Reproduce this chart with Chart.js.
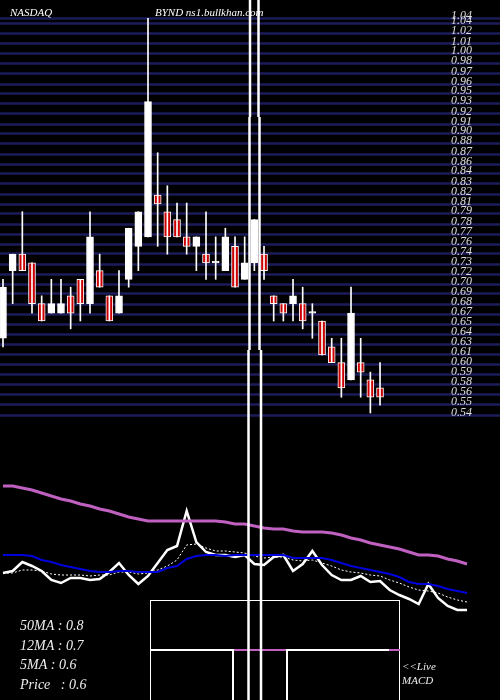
<!DOCTYPE html>
<html><head><meta charset="utf-8">
<script src="https://cdn.jsdelivr.net/npm/chart.js@4/dist/chart.umd.min.js"></script>
<style>html,body{margin:0;padding:0;background:#000;}canvas{display:block;}</style>
</head><body>
<canvas id="c" width="500" height="700"></canvas>
<script>
// Candles (open, high, low, close)
const opens  = [.635,.721,.742,.731,.679,.667,.667,.689,.710,.679,.721,.689,.667,.710,.752,.764,.817,.796,.786,.764,.752,.742,.731,.721,.752,.710,.731,.742,.689,.679,.679,.679,.667,.657,.624,.604,.582,.604,.582,.572];
const highs  = [.710,.742,.796,.731,.689,.710,.710,.700,.710,.796,.742,.689,.721,.775,.796,1.042,.871,.829,.807,.807,.764,.796,.764,.775,.764,.764,.786,.752,.689,.679,.710,.700,.679,.657,.635,.635,.700,.635,.592,.604];
const lows   = [.624,.679,.721,.667,.657,.667,.667,.647,.657,.667,.700,.657,.667,.700,.721,.764,.752,.742,.764,.742,.721,.710,.710,.721,.700,.710,.721,.710,.657,.657,.657,.647,.635,.614,.604,.560,.582,.560,.540,.550];
const closes = [.700,.742,.721,.679,.657,.679,.679,.667,.679,.764,.700,.657,.689,.775,.796,.936,.806,.764,.764,.752,.764,.731,.731,.764,.700,.731,.786,.721,.679,.667,.689,.657,.667,.614,.604,.572,.667,.592,.560,.560];
// Indicator panel series
const ma50  = [214,214,212,210,207,204,201,199,196,194,191,189,186,183,181,179,179,179,179,179,179,179,179,178,176,176,174,172,171,171,169,168,168,168,167,165,162,160,157,155,153,151,148,145,145,144,141,139,136];
const ma12  = [145,145,145,144,140,138,135,133,131,129,128,128,129,129,128,128,128,132,134,141,144,145,145,144,145,145,145,145,145,145,142,142,142,142,140,137,134,132,130,128,126,123,118,116,116,114,111,109,107];
const price = [127,129,138,134,129,120,117,122,122,120,121,128,137,125,116,124,137,150,154,189,158,148,145,145,143,145,136,135,143,145,129,136,149,135,125,120,120,124,118,119,110,105,101,96,116,102,94,90,90];
const ma5   = [127,127,130,130,129,126,125,125,125,124,125,125,128,128,126,127,130,134,140,155,156,152,149,149,148,147,144,142,143,143,140,139,140,137,134,130,128,127,125,124,120,117,113,110,109,107,103,100,98];
// Price axis tick labels
const tickValues = [1.042,1.036,1.023,1.010,0.998,0.985,0.972,0.959,0.947,0.934,0.921,0.908,0.896,0.883,0.870,0.857,0.845,0.832,0.819,0.806,0.794,0.781,0.768,0.755,0.743,0.730,0.717,0.704,0.692,0.679,0.666,0.653,0.641,0.628,0.615,0.602,0.590,0.577,0.564,0.551,0.538];
const legendLines = ["50MA : 0.8","12MA : 0.7","5MA : 0.6","Price   : 0.6"];

const isUp = opens.map((o,i)=>closes[i]>=o);
const wickData = highs.map((h,i)=>({x:i,y:[lows[i],h]}));
const bodyData = opens.map((o,i)=>{const a=Math.min(o,closes[i]),b=Math.max(o,closes[i]);return {x:i,y:[a,b-a<0.002?a+0.002:b]};});
const lineData = arr=>arr.map((v,i)=>({x:i,y:v}));

const SERIF = '"Liberation Serif","DejaVu Serif",serif';
const deco = {
  id:'deco',
  beforeDraw(ch){const c=ch.ctx;c.save();c.fillStyle='#000';c.fillRect(0,0,ch.width,ch.height);
    const y=ch.scales.y;c.strokeStyle='#1c1c5a';c.lineWidth=2.5;
    tickValues.forEach(v=>{const p=Math.round(y.getPixelForValue(v))+0.5;c.beginPath();c.moveTo(0,p);c.lineTo(500,p);c.stroke();});
    c.restore();},
  afterDraw(ch){const c=ch.ctx;c.save();
    const y=ch.scales.y;
    c.fillStyle='#ddd';c.font='italic 12px '+SERIF;c.textBaseline='middle';
    tickValues.forEach(v=>c.fillText(v.toFixed(2),451,y.getPixelForValue(v)-2));
    c.fillStyle='#fff';c.font='italic 11px '+SERIF;c.textBaseline='alphabetic';
    c.fillText('NASDAQ',10,16);c.fillText('BYND ns1.bullkhan.com',155,16);
    c.strokeStyle='#fff';c.lineWidth=1;c.strokeRect(150.5,600.5,249,110);
    c.lineWidth=2;
    const seg=(x1,y1,x2,y2,col)=>{c.strokeStyle=col;c.beginPath();c.moveTo(x1,y1);c.lineTo(x2,y2);c.stroke();};
    seg(150,650,234,650,'#fff');seg(234,650,286,650,'#c060c0');seg(286,650,389,650,'#fff');seg(389,650,400,650,'#c060c0');
    seg(233,650,233,700,'#fff');seg(287,650,287,700,'#fff');
    c.lineWidth=2.5;
    seg(250,0,250,117,'#fff');seg(258.5,0,258.5,117,'#fff');
    seg(249.5,117,249.5,350,'#fff');seg(259.5,117,259.5,350,'#fff');
    seg(248.5,350,248.5,700,'#fff');seg(261,350,261,700,'#fff');
    c.fillStyle='#eee';c.font='italic 14px '+SERIF;
    legendLines.forEach((t,i)=>c.fillText(t,20,630+i*19.5));
    c.font='italic 11px '+SERIF;c.fillText('<<Live',402,670);c.fillText('MACD',402,684);
    c.restore();}
};

new Chart(document.getElementById('c'),{
  type:'bar',
  data:{datasets:[
    {type:'line',data:lineData(ma50),yAxisID:'y2',borderColor:'#c060c0',borderWidth:3,pointRadius:0,tension:0},
    {type:'line',data:lineData(ma12),yAxisID:'y2',borderColor:'#0000dd',borderWidth:2,pointRadius:0,tension:0},
    {type:'line',data:lineData(ma5),yAxisID:'y2',borderColor:'#fff',borderWidth:1,borderDash:[2,2],pointRadius:0,tension:0},
    {type:'line',data:lineData(price),yAxisID:'y2',borderColor:'#fff',borderWidth:2.5,pointRadius:0,tension:0},
    {data:wickData,yAxisID:'y',backgroundColor:'#fff',barThickness:1,grouped:false},
    {data:bodyData,yAxisID:'y',backgroundColor:isUp.map(u=>u?'#fff':'#cc0000'),borderColor:'#fff',borderWidth:1,borderSkipped:false,barThickness:7,grouped:false}
  ]},
  options:{responsive:false,animation:false,devicePixelRatio:1,
    layout:{padding:0},
    plugins:{legend:{display:false},tooltip:{enabled:false}},
    scales:{
      x:{type:'linear',offset:false,min:-0.31,max:51.41,display:false},
      y:{min:0.1749,max:1.0653,display:false},
      y2:{min:0,max:700,display:false}
    }},
  plugins:[deco]
});
</script>
</body></html>
